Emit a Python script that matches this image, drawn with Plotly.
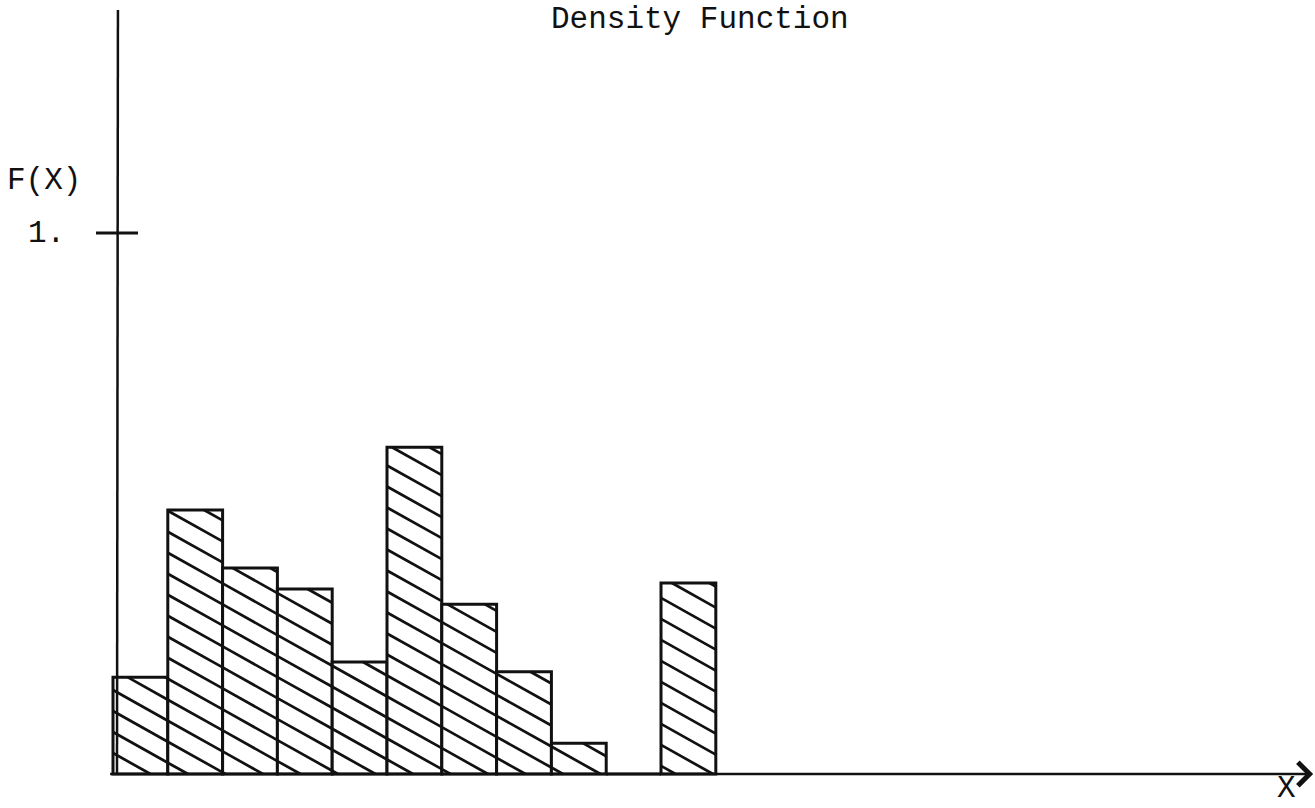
import plotly.graph_objects as go

# ---- data ----
bins = list(range(11))                       # bin index along X
density = [0.179, 0.488, 0.381, 0.342, 0.207, 0.604, 0.314, 0.189, 0.057, 0.0, 0.353]
y_ticks = [1]
y_tick_text = ["1."]
title_text = "Density Function"
y_label = "F(X)"
x_label = "X"

# ---- layout geometry ----
W, H = 1315, 808
X_RANGE = [-2.062, 21.934]
Y_RANGE = [-0.0628, 1.4307]
PX_X = W / (X_RANGE[1] - X_RANGE[0])   # pixels per x unit
PX_Y = H / (Y_RANGE[1] - Y_RANGE[0])   # pixels per y unit
FONT = "Liberation Mono, Courier New, monospace"
INK = "#111111"

# ---- hatch lines computed from bar rectangles (pixel space, then back to data) ----
SLOPE = 0.56      # downward slope in pixels
STEP = 21.0       # vertical spacing in pixels
hx, hy = [], []
for b, v in zip(bins, density):
    if v <= 0:
        continue
    x0, x1 = b * PX_X, (b + 1) * PX_X
    top = v * PX_Y
    k_min = int((0 + SLOPE * x0) // STEP)
    k_max = int((top + SLOPE * x1) // STEP) + 1
    for k in range(k_min, k_max + 1):
        c = k * STEP
        xs = max(x0, (c - top) / SLOPE)
        xe = min(x1, c / SLOPE)
        if xe - xs > 1.5:
            hx += [xs / PX_X, xe / PX_X, None]
            hy += [(c - SLOPE * xs) / PX_Y, (c - SLOPE * xe) / PX_Y, None]

fig = go.Figure()
fig.add_trace(go.Bar(
    x=[b + 0.5 for b in bins], y=density, width=1,
    marker=dict(color="white", line=dict(color=INK, width=3)),
    hoverinfo="skip", showlegend=False,
))
fig.add_trace(go.Scatter(
    x=hx, y=hy, mode="lines", line=dict(color=INK, width=2.7),
    hoverinfo="skip", showlegend=False, cliponaxis=True,
))

def px(xp, yp=None):
    d = dict(x=xp / W, xref="paper", yref="paper")
    if yp is not None:
        d["y"] = 1 - yp / H
    return d

annotations = [
    dict(text=title_text, **px(700), y=1, yanchor="top"),
    dict(text=y_label, **px(44, 181), yanchor="middle"),
    dict(text=x_label, **px(1286), y=0, yanchor="bottom"),
]
for t, tt in zip(y_ticks, y_tick_text):
    annotations.append(dict(text=tt, x=46 / W, xref="paper", y=t, yref="y", yanchor="middle"))
for a in annotations:
    a.update(showarrow=False, xanchor="center",
             font=dict(family=FONT, size=31, color=INK))

# X axis with arrow
annotations.append(dict(
    x=21.9, y=0, xref="x", yref="y", ax=-0.08, ay=0, axref="x", ayref="y",
    text="", showarrow=True, arrowhead=4, arrowsize=1.8, arrowwidth=2.5,
    arrowcolor=INK, standoff=0,
))

shapes = [
    # y axis line
    dict(type="line", xref="x", yref="y", x0=0.073, x1=0.09, y0=0, y1=1.412,
         line=dict(color=INK, width=2.5)),
]
for t in y_ticks:
    shapes.append(dict(type="line", xref="x", yref="y", x0=-0.31, x1=0.456, y0=t, y1=t,
                       line=dict(color=INK, width=3)))

fig.update_layout(
    width=W, height=H,
    margin=dict(l=0, r=0, t=0, b=0),
    paper_bgcolor="white", plot_bgcolor="white",
    xaxis=dict(range=X_RANGE, visible=False, fixedrange=True),
    yaxis=dict(range=Y_RANGE, visible=False, fixedrange=True),
    bargap=0,
    annotations=annotations,
    shapes=shapes,
    showlegend=False,
)

fig.write_html(
    "out.html",
    config={"displayModeBar": False, "staticPlot": True},
    post_script="document.body.style.margin='0';document.body.style.overflow='hidden';",
)
